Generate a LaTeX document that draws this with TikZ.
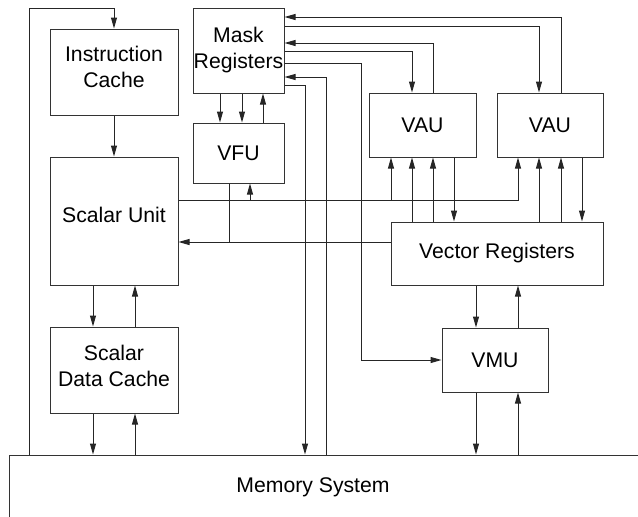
\documentclass[tikz,border=0pt]{standalone}
\usepackage{fontspec}
\setmainfont{Liberation Sans}
\usetikzlibrary{positioning,arrows.meta,calc}

\begin{document}
\begin{tikzpicture}[
  x=0.5pt, y=-0.5pt,
  box/.style={draw=black!80, align=center, inner sep=0pt, line width=0.5pt, font=\fontsize{10.6}{13}\selectfont},
  arr/.style={-{Triangle[length=5.5pt, width=3pt]}, line width=0.5pt, draw=black!85},
  wire/.style={line width=0.5pt, draw=black!85}]
\clip (0,0) rectangle (638,516);
\node[box, minimum width=64pt, minimum height=43pt, text depth=5.5pt] (ic) at (114,72) {Instruction\\Cache};
\node[box, minimum width=64pt, minimum height=64pt, text depth=6pt] (su) at (114,221) {Scalar Unit};
\node[box, minimum width=64pt, minimum height=43pt, text depth=4pt] (dc) at (114,370) {Scalar\\Data Cache};
\node[box, minimum width=45.5pt, minimum height=42.5pt] (mask) at (238.5,50.5) {Mask\\Registers};
\node[box, minimum width=45.5pt, minimum height=30pt] (vfu) at (238.5,153) {VFU};
\node[box, minimum width=53.5pt, minimum height=32pt] (vau1) at (422.5,125) {VAU};
\node[box, minimum width=53pt, minimum height=32pt] (vau2) at (550,125) {VAU};
\node[box, minimum width=106pt, minimum height=31.5pt] (vr) at (497,253.5) {Vector Registers};
\node[box, minimum width=53pt, minimum height=32pt] (vmu) at (495,360) {VMU};
\node[box, minimum width=325.5pt, minimum height=42.5pt] (mem) at (334.5,497.5) {};
\node[font=\fontsize{10.6}{13}\selectfont] (memtext) at (313,487) {Memory System};
\draw[arr] (29,0 |- mem.north) -- (29,8) -| (ic.north);
\draw[arr] (ic) -- (su);
\draw[arr] (93,0 |- su.south) -- (93,0 |- dc.north);
\draw[arr] (135,0 |- dc.north) -- (135,0 |- su.south);
\draw[arr] (93,0 |- dc.south) -- (93,0 |- mem.north);
\draw[arr] (135,0 |- mem.north) -- (135,0 |- dc.south);
\foreach \x in {220,242}
  \draw[arr] (\x,0 |- mask.south) -- (\x,0 |- vfu.north);
\draw[arr] (263,0 |- vfu.north) -- (263,0 |- mask.south);
\draw[arr] (su.east |- 0,200) -| (518,0 |- vau2.south);
\foreach \x/\n in {250/vfu,391/vau1}
  \draw[arr] (\x,200) -- (\x,0 |- \n.south);
\draw[arr] (vr.west |- 0,242) -- (su.east |- 0,242);
\draw[wire] (229,0 |- vfu.south) -- (229,242);
\foreach \x in {412,433}
  \draw[arr] (\x,0 |- vr.north) -- (\x,0 |- vau1.south);
\draw[arr] (454,0 |- vau1.south) -- (454,0 |- vr.north);
\foreach \x in {539,561}
  \draw[arr] (\x,0 |- vr.north) -- (\x,0 |- vau2.south);
\draw[arr] (582,0 |- vau2.south) -- (582,0 |- vr.north);
\draw[arr] (561,0 |- vau2.north) |- (mask.east |- 0,17);
\draw[arr] (mask.east |- 0,26) -| (539,0 |- vau2.north);
\draw[arr] (433,0 |- vau1.north) |- (mask.east |- 0,43);
\draw[arr] (mask.east |- 0,51) -| (412,0 |- vau1.north);
\draw[arr] (mask.east |- 0,63) -| (361,0 |- vmu.west) -- (vmu.west);
\draw[arr] (326,0 |- mem.north) |- (mask.east |- 0,77);
\draw[arr] (mask.east |- 0,85) -| (305,0 |- mem.north);
\draw[arr] (476,0 |- vr.south) -- (476,0 |- vmu.north);
\draw[arr] (518,0 |- vmu.north) -- (518,0 |- vr.south);
\draw[arr] (476,0 |- vmu.south) -- (476,0 |- mem.north);
\draw[arr] (518,0 |- mem.north) -- (518,0 |- vmu.south);
\end{tikzpicture}
\end{document}
